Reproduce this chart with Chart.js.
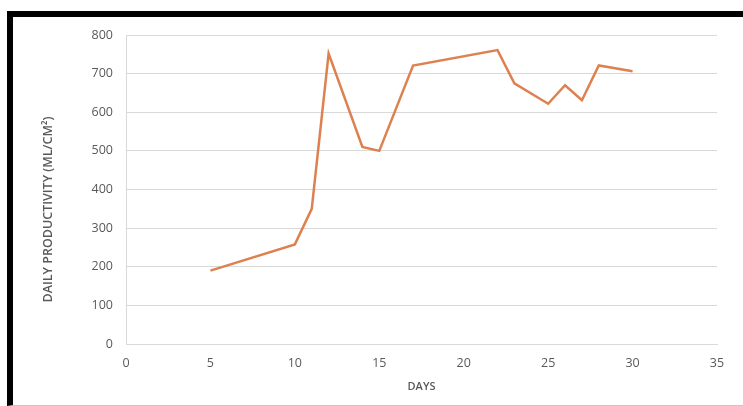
<!DOCTYPE html>
<html>
<head>
<meta charset="utf-8">
<script src="https://cdn.jsdelivr.net/npm/chart.js@4/dist/chart.umd.min.js"></script>
<style>
  html, body { margin: 0; padding: 0; background: #ffffff; }
  #wrap { position: relative; width: 743px; height: 406px; overflow: hidden; }
  #frame { position: absolute; left: 7px; top: 11px; right: 0; bottom: 0;
           border-top: 6px solid #000; border-left: 6px solid #000; border-bottom: 1px solid #c8c8c8; box-sizing: border-box; }
  canvas { position: absolute; left: 0; top: 0; }
</style>
</head>
<body>
<div id="wrap">
  <div id="frame"></div>
  <canvas id="c" width="743" height="406"></canvas>
</div>
<script>
const days = [5, 10, 11, 12, 14, 15, 17, 22, 23, 25, 26, 27, 28, 30];
const productivity = [190, 258, 350, 752, 510, 500, 721, 761, 675, 622, 670, 631, 721, 706];
const xTicks = [0, 5, 10, 15, 20, 25, 30, 35];
const yTicks = [0, 100, 200, 300, 400, 500, 600, 700, 800];
const xTitle = 'DAYS';
const yTitle = 'DAILY PRODUCTIVITY (ML/CM²)';

const points = days.map((d, i) => ({ x: d, y: productivity[i] }));
const tickFont = { family: "'Open Sans', 'Liberation Sans', sans-serif", size: 12.5 };
const titleFont = { family: "'Open Sans', 'Liberation Sans', sans-serif", size: 11, weight: '600' };
const gray = '#595959';
const gridColor = '#d9d9d9';

const yTitlePlugin = {
  id: 'yTitle',
  afterDraw(chart) {
    const ctx = chart.ctx;
    const area = chart.chartArea;
    ctx.save();
    ctx.translate(48, (area.top + area.bottom) / 2 + 20);
    ctx.rotate(-Math.PI / 2);
    ctx.font = "600 12.5px 'Open Sans', 'Liberation Sans', sans-serif";
    ctx.fillStyle = gray;
    ctx.textAlign = 'center';
    ctx.textBaseline = 'middle';
    ctx.fillText(yTitle, 0, 0);
    ctx.restore();
  }
};

new Chart(document.getElementById('c'), {
  type: 'line',
  data: {
    datasets: [{
      data: points,
      borderColor: '#DD8150',
      borderWidth: 2.5,
      pointRadius: 0,
      tension: 0,
      fill: false
    }]
  },
  options: {
    responsive: false,
    animation: false,
    events: [],
    layout: { padding: { left: 0, top: 35, right: 26, bottom: 0 } },
    plugins: { legend: { display: false }, tooltip: { enabled: false } },
    scales: {
      x: {
        type: 'linear',
        min: 0, max: 35,
        afterFit(s) { s.height = 62; },
        afterBuildTicks(s) { s.ticks = xTicks.map(v => ({ value: v })); },
        grid: { display: false, drawTicks: false },
        border: { display: true, color: gridColor, width: 1 },
        ticks: { color: gray, font: tickFont, padding: 12, maxRotation: 0 },
        title: { display: true, text: xTitle, color: gray, font: titleFont, padding: { top: 0, bottom: 13 } }
      },
      y: {
        min: 0, max: 800,
        afterFit(s) { s.width = 126; },
        afterBuildTicks(s) { s.ticks = yTicks.map(v => ({ value: v })); },
        grid: { color: gridColor, lineWidth: 1, drawTicks: false },
        border: { display: true, color: gridColor, width: 1 },
        ticks: { color: gray, font: tickFont, padding: 13 },
        title: { display: false }
      }
    }
  },
  plugins: [yTitlePlugin]
});
</script>
</body>
</html>
